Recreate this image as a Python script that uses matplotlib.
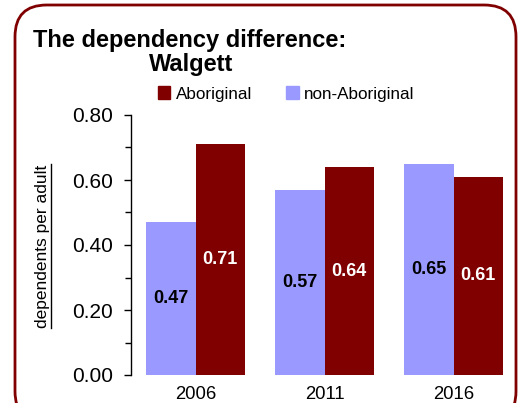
import matplotlib
matplotlib.use("Agg")
import matplotlib.pyplot as plt
import numpy as np
from matplotlib.patches import FancyBboxPatch, Patch
from matplotlib.lines import Line2D

years = ["2006", "2011", "2016"]
aboriginal = [0.71, 0.64, 0.61]
non_aboriginal = [0.47, 0.57, 0.65]
yticks = [0.0, 0.2, 0.4, 0.6, 0.8]

RED = "#800000"
BLUE = "#9999FF"
plt.rcParams['font.family'] = ['Liberation Sans', 'DejaVu Sans']

fig = plt.figure(figsize=(5.29, 4.03), dpi=100)
W, H = 529, 403
ax = fig.add_axes([131 / W, 1 - 375 / H, 387 / W, 260 / H])

x = np.arange(len(years))
bw = 0.384
b1 = ax.bar(x - bw / 2, non_aboriginal, bw, color=BLUE)
b2 = ax.bar(x + bw / 2, aboriginal, bw, color=RED)

for rect, v in zip(b1, non_aboriginal):
    ax.text(rect.get_x() + rect.get_width() / 2, v / 2, f"{v:.2f}", ha='center', va='center',
            fontsize=13, fontweight='bold', color='black')
for rect, v in zip(b2, aboriginal):
    ax.text(rect.get_x() + rect.get_width() / 2, v / 2, f"{v:.2f}", ha='center', va='center',
            fontsize=13, fontweight='bold', color='white')

ax.set_xlim(-0.5, 2.5)
ax.set_ylim(0, 0.8)
ax.set_yticks(yticks)
ax.set_yticklabels([f"{t:.2f}" for t in yticks], fontsize=15)
ax.set_yticks(np.arange(0.1, 0.8, 0.2), minor=True)
ax.tick_params(axis='y', which='major', length=5, width=1, direction='out', pad=8)
ax.tick_params(axis='y', which='minor', length=4, width=1, direction='out')
ax.set_xticks(x)
ax.set_xticklabels(years, fontsize=13.3)
ax.tick_params(axis='x', length=0, pad=8)
for s in ['top', 'right', 'bottom']:
    ax.spines[s].set_visible(False)
ax.spines['left'].set_linewidth(1)

# y label with underline
yl = fig.text(43 / W, 1 - 246 / H, "dependents per adult", rotation=90, ha='center', va='center',
              fontsize=12.5)
fig.canvas.draw()
bb = yl.get_window_extent().transformed(fig.transFigure.inverted())
fig.add_artist(Line2D([bb.x1 + 0.001, bb.x1 + 0.001], [bb.y0, bb.y1], transform=fig.transFigure,
                      color='black', lw=1))

# title
fig.text(33 / W, 1 - 40 / H, "The dependency difference:", ha='left', va='center',
         fontsize=17, fontweight='bold')
fig.text(191 / W, 1 - 64 / H, "Walgett", ha='center', va='center', fontsize=17, fontweight='bold')

# legend
handles = [Patch(color=RED, label="Aboriginal"), Patch(color=BLUE, label="non-Aboriginal")]
fig.legend(handles=handles, loc='center', bbox_to_anchor=(286 / W, 1 - 94 / H), ncol=2, frameon=False,
           fontsize=12.3, handlelength=0.75, handleheight=0.75,
           handletextpad=0.3, columnspacing=2.0)

# rounded border
border = FancyBboxPatch((15 / W, -20 / H), 501 / W, (398 + 20) / H,
                        boxstyle="round,pad=0,rounding_size=0.06", transform=fig.transFigure,
                        fill=False, edgecolor=RED, lw=2, mutation_aspect=W / H)
fig.add_artist(border)

fig.savefig("out.png", dpi=100)
